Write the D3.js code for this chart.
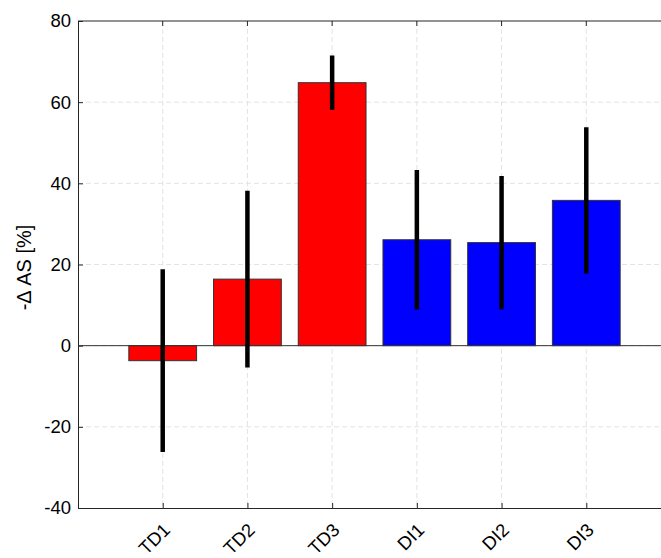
<!DOCTYPE html>
<html>
<head>
<meta charset="utf-8">
<script src="https://cdn.jsdelivr.net/npm/d3@7"></script>
<style>
  body { margin: 0; background: #fff; }
  svg { display: block; font-family: "Liberation Sans", Arial, sans-serif; }
</style>
</head>
<body>
<div id="visualization"></div>
<script>
// Chart data
const groups = ["TD1", "TD2", "TD3", "DI1", "DI2", "DI3"];
const means = [-3.7, 16.4, 64.8, 26.1, 25.4, 35.8];
const errors = [22.5, 21.8, 6.7, 17.2, 16.4, 18.0];
const barColors = ["#ff0000", "#ff0000", "#ff0000", "#0000ff", "#0000ff", "#0000ff"];
const yTicks = [-40, -20, 0, 20, 40, 60, 80];

const width = 661, height = 558;
const svg = d3.select("#visualization")
    .append("svg")
    .attr("width", width)
    .attr("height", height);

// x positions 1..6 on a 0..7 axis (figure is cropped on the right)
const xScale = d3.scaleLinear().domain([0, 7]).range([78, 671]);
const yScale = d3.scaleLinear().domain([-40, 80]).range([508, 21]);
const step = xScale(1) - xScale(0);
const barW = step * 0.8;

const data = groups.map((g, i) => ({ g, i: i + 1, mean: means[i], err: errors[i], color: barColors[i] }));

// grid
svg.append("g")
    .selectAll("line")
    .data(yTicks.slice(1, -1))
    .enter().append("line")
    .attr("x1", xScale(0)).attr("x2", xScale(7))
    .attr("y1", d => yScale(d)).attr("y2", d => yScale(d))
    .attr("stroke", "#e3e3e3").attr("stroke-width", 1)
    .attr("stroke-dasharray", "5,3");

svg.append("g")
    .selectAll("line")
    .data(data)
    .enter().append("line")
    .attr("x1", d => xScale(d.i)).attr("x2", d => xScale(d.i))
    .attr("y1", yScale(80)).attr("y2", yScale(-40))
    .attr("stroke", "#e3e3e3").attr("stroke-width", 1)
    .attr("stroke-dasharray", "5,3");

// bars
svg.append("g")
    .selectAll("rect")
    .data(data)
    .enter().append("rect")
    .attr("x", d => xScale(d.i) - barW / 2)
    .attr("y", d => yScale(Math.max(0, d.mean)))
    .attr("width", barW)
    .attr("height", d => Math.abs(yScale(d.mean) - yScale(0)))
    .attr("fill", d => d.color)
    .attr("stroke", "#333")
    .attr("stroke-width", 1);

// baseline
svg.append("line")
    .attr("x1", xScale(0)).attr("x2", xScale(7))
    .attr("y1", yScale(0)).attr("y2", yScale(0))
    .attr("stroke", "#333").attr("stroke-width", 1);

// error bars
svg.append("g")
    .selectAll("line")
    .data(data)
    .enter().append("line")
    .attr("x1", d => xScale(d.i)).attr("x2", d => xScale(d.i))
    .attr("y1", d => yScale(d.mean - d.err))
    .attr("y2", d => yScale(d.mean + d.err))
    .attr("stroke", "#000").attr("stroke-width", 4.5);

// axes
const yAxis = svg.append("g")
    .attr("transform", `translate(${xScale(0)},0)`)
    .call(d3.axisLeft(yScale).tickValues(yTicks).tickSize(-5).tickPadding(7)
        .tickFormat(d => String(d)));
yAxis.select(".domain").attr("stroke", "#262626");
yAxis.selectAll(".tick line").attr("stroke", "#262626");
yAxis.selectAll("text").attr("font-size", 18.5).attr("fill", "#000")
    .attr("font-family", "Liberation Sans, Arial, sans-serif");

const xAxis = svg.append("g")
    .attr("transform", `translate(0,${yScale(-40)})`)
    .call(d3.axisBottom(xScale).tickValues(data.map(d => d.i)).tickSize(-5)
        .tickFormat(d => groups[d - 1]));
xAxis.select(".domain").attr("stroke", "#262626");
xAxis.selectAll(".tick line").attr("stroke", "#262626");
xAxis.selectAll("text")
    .attr("font-size", 18.5).attr("fill", "#000")
    .attr("font-family", "Liberation Sans, Arial, sans-serif")
    .attr("text-anchor", "end")
    .attr("dy", 0)
    .attr("transform", "translate(6,21) rotate(-45)");

// top border with ticks
svg.append("line")
    .attr("x1", xScale(0)).attr("x2", xScale(7))
    .attr("y1", yScale(80)).attr("y2", yScale(80))
    .attr("stroke", "#262626");
svg.append("g")
    .selectAll("line")
    .data(data)
    .enter().append("line")
    .attr("x1", d => xScale(d.i)).attr("x2", d => xScale(d.i))
    .attr("y1", yScale(80)).attr("y2", yScale(80) + 5)
    .attr("stroke", "#262626");

// y label
svg.append("text")
    .attr("transform", `translate(31,${(yScale(80) + yScale(-40)) / 2 + 3}) rotate(-90)`)
    .attr("text-anchor", "middle")
    .attr("font-size", 20)
    .text("-\u0394 AS [%]");
</script>
</body>
</html>
